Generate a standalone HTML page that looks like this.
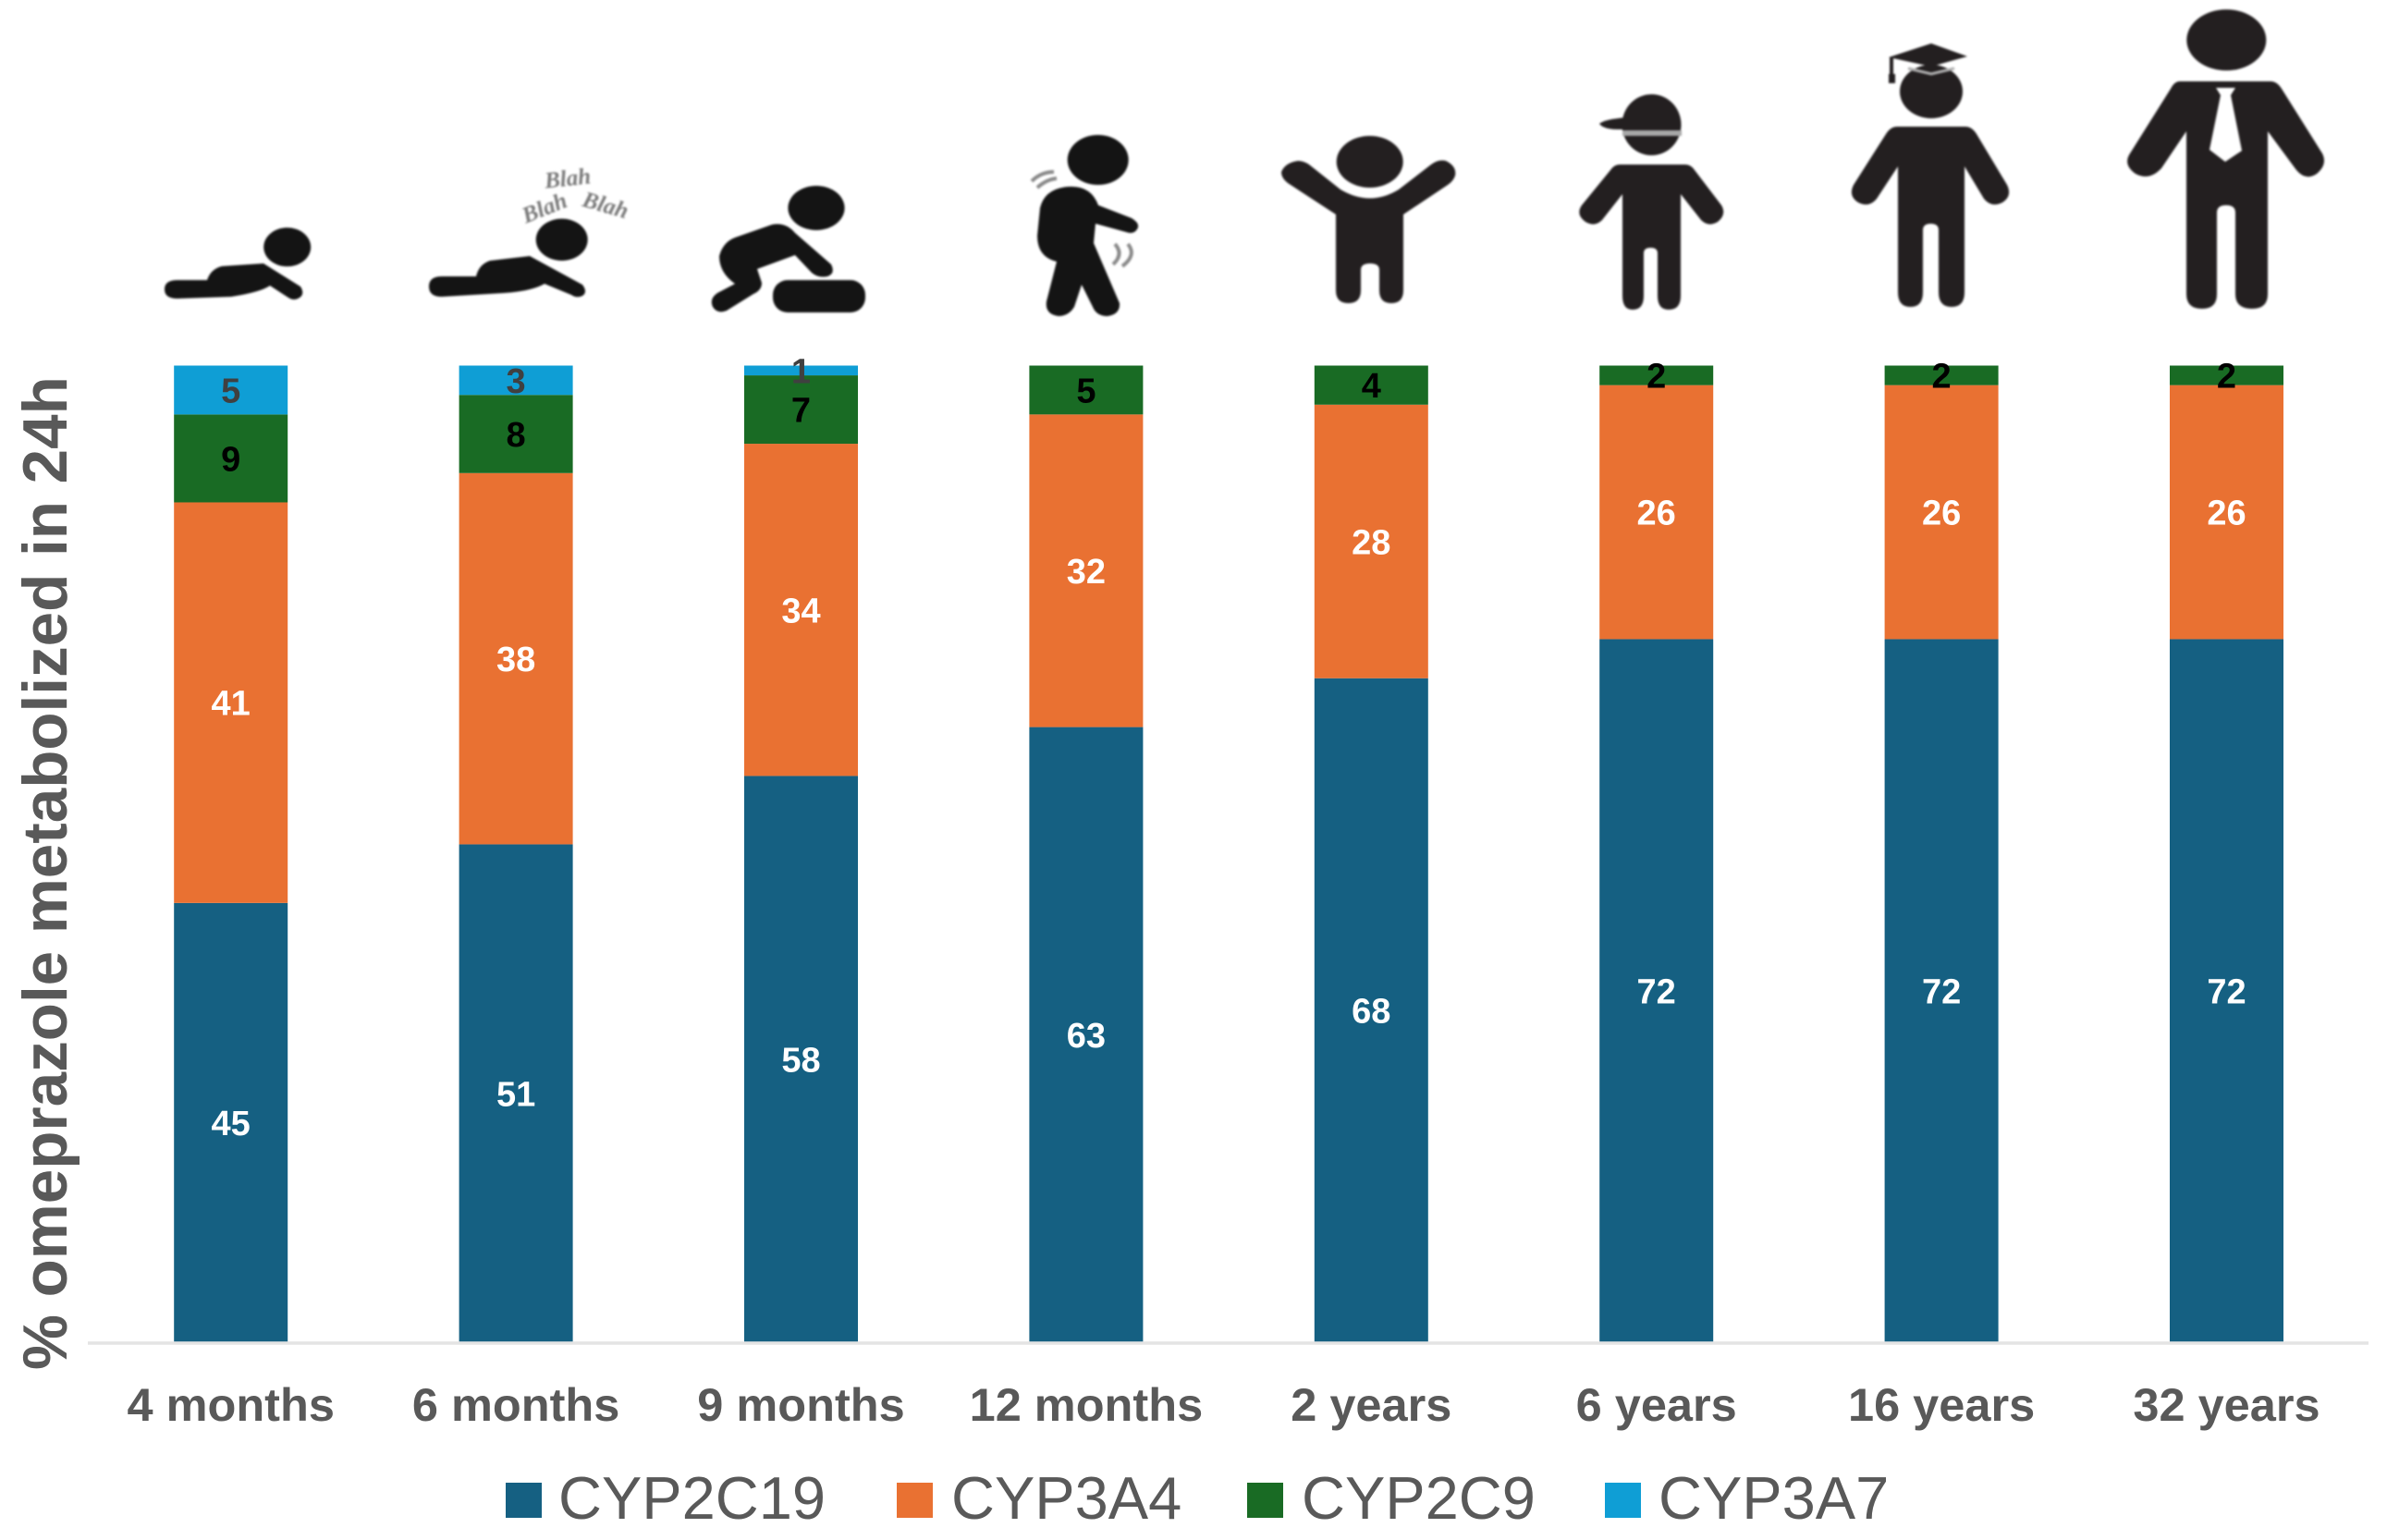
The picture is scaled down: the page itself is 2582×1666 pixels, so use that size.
<!DOCTYPE html>
<html lang="en">
<head>
<meta charset="utf-8">
<title>Omeprazole metabolism by age</title>
<style>
html,body{margin:0;padding:0;background:#fff;}
svg{display:block;font-family:"Liberation Sans",Arial,sans-serif;}
#age-icons{filter:blur(1.1px);}
</style>
</head>
<body>
<svg id="chart" xmlns="http://www.w3.org/2000/svg" width="2582" height="1666" viewBox="0 0 2582 1666">
  <rect x="0" y="0" width="2582" height="1666" fill="#ffffff"/>

  <g id="age-icons">
    <g fill="#141414">
      <ellipse cx="310.7" cy="267.3" rx="25.5" ry="21"/>
      <path d="M192 303 L224 303 Q228 291 240 288 L285 285 L325 310 Q330 318 324 322 Q318 326 312 322 L292 309 Q282 316 250 321 L192 323 Q178 323 178 313 Q178 303 192 303 Z"/>
    </g>
    <g fill="#141414">
      <ellipse cx="607.7" cy="259.3" rx="28" ry="22.7"/>
      <path d="M478 299 L515 299 Q518 286 530 282 L573 277 L630 308 Q636 316 630 320 Q624 323 618 319 L589 307 Q575 315 545 317 L478 321 Q464 321 464 310 Q464 299 478 299 Z"/>
      <text x="614" y="201" font-size="25" font-weight="700" font-style="italic" font-family="Liberation Serif" fill="#7a7a7a" text-anchor="middle" transform="rotate(-6 614 193)">Blah</text>
      <text x="589" y="233" font-size="25" font-weight="700" font-style="italic" font-family="Liberation Serif" fill="#7a7a7a" text-anchor="middle" transform="rotate(-22 589 225)">Blah</text>
      <text x="655" y="230" font-size="25" font-weight="700" font-style="italic" font-family="Liberation Serif" fill="#7a7a7a" text-anchor="middle" transform="rotate(16 655 222)">Blah</text>
    </g>
    <g fill="#141414">
      <ellipse cx="883" cy="225" rx="30.6" ry="24"/>
      <path d="M778 277 Q782 262 795 257 L835 243 Q850 240 860 252 L899 286 Q904 296 895 299 Q885 301 878 295 L860 276 L819 291 L824 306 Q824 314 815 318 L786 336 Q776 340 771 332 Q767 323 776 317 L795 307 Q778 295 778 277 Z"/>
      <rect x="836" y="303" width="100" height="35" rx="16"/>
    </g>
    <g fill="#141414">
      <ellipse cx="1187.7" cy="173" rx="33" ry="27"/>
      <path d="M1155 202 Q1180 200 1188 222 L1224 236 Q1234 242 1230 248 Q1226 254 1218 251 L1185 242 L1183 263 L1211 328 Q1212 340 1198 342 Q1186 342 1182 332 L1170 308 L1162 332 Q1156 342 1145 342 Q1130 340 1132 326 L1143 283 Q1122 278 1122 255 L1125 225 Q1130 204 1155 202 Z"/>
      <path d="M1116 196 Q1126 186 1140 186 M1122 203 Q1132 194 1143 193" stroke="#8a8a8a" stroke-width="4" fill="none"/>
      <path d="M1206 264 Q1216 275 1204 286 M1220 264 Q1230 276 1214 288" stroke="#8a8a8a" stroke-width="4" fill="none"/>
    </g>
    <g fill="#231f20">
      <ellipse cx="1481.7" cy="175" rx="36" ry="28"/>
      <path d="M1404 174 Q1410 174 1416 178 L1450 205 Q1482 224 1513 205 L1548 178 Q1556 172 1564 174 Q1576 180 1574 190 Q1572 196 1566 200 L1518 232 L1518 314 Q1518 328 1505 328 Q1492 328 1492 314 L1492 292 Q1492 285 1482 285 Q1472 285 1472 292 L1472 314 Q1472 328 1458.5 328 Q1445 328 1445 314 L1445 232 L1396 200 Q1386 194 1386 186 Q1390 176 1404 174 Z"/>
    </g>
    <g fill="#231f20">
      <ellipse cx="1786.5" cy="135" rx="32" ry="33"/>
      <path d="M1730 134 Q1735 129 1760 127 L1790 127 L1790 140 L1750 140 Q1735 140 1730 134 Z"/>
      <rect x="1755" y="141" width="64" height="6" fill="#a8a8a8"/>
      <path d="M1752 178 L1823 178 Q1829 178 1833 184 L1862 222 Q1868 232 1858 240 Q1848 246 1840 238 L1818 210 L1818 320 Q1818 335 1805 335 Q1793 335 1793 320 L1793 274 Q1793 268 1785.5 268 Q1778 268 1778 274 L1778 320 Q1778 335 1766 335 Q1755 335 1755 320 L1755 210 L1733 238 Q1725 246 1715 240 Q1704 232 1711 222 L1742 184 Q1746 178 1752 178 Z"/>
    </g>
    <g fill="#231f20">
      <ellipse cx="2089" cy="99" rx="34" ry="29"/>
      <polygon points="2043,62 2089,47 2128,61 2089,72"/>
      <path d="M2064 74 L2089 80 L2114 74" stroke="#b0b0b0" stroke-width="3" fill="none"/>
      <path d="M2046 62 L2046 82" stroke="#231f20" stroke-width="4" fill="none"/>
      <rect x="2043" y="80" width="7" height="10"/>
      <path d="M2052 137 L2126 137 Q2133 137 2138 145 L2171 200 Q2177 212 2166 219 Q2154 225 2146 215 L2125 180 L2125 316 Q2125 332 2111 332 Q2097 332 2097 316 L2097 249 Q2097 242 2088.5 242 Q2080 242 2080 249 L2080 316 Q2080 332 2066.5 332 Q2053 332 2053 316 L2053 180 L2030 215 Q2022 225 2010 219 Q1999 212 2005 200 L2040 145 Q2045 137 2052 137 Z"/>
    </g>
    <g fill="#231f20">
      <ellipse cx="2408.3" cy="43.3" rx="43" ry="33"/>
      <path d="M2358 88 L2456 88 Q2463 88 2468 96 L2512 166 Q2518 178 2506 188 Q2494 196 2484 184 L2453 142 L2453 318 Q2453 334 2436 334 Q2418 334 2418 318 L2418 230 Q2418 222 2408 222 Q2398 222 2398 230 L2398 318 Q2398 334 2382 334 Q2365 334 2365 318 L2365 142 L2338 182 Q2325 196 2310 188 Q2296 178 2304 166 L2348 96 Q2352 88 2358 88 Z"/>
      <polygon points="2397,95 2418,95 2413,103 2425,163 2407,175 2390,162 2402,103" fill="#ffffff"/>
    </g>
  </g>

  <g id="bars"></g>
  <line x1="95" y1="1453" x2="2562" y2="1453" stroke="#e4e4e4" stroke-width="3.5"/>
  <g id="x-labels"></g>
  <text transform="translate(72,1482) rotate(-90)" font-size="67.4" font-weight="700" fill="#595959">% omeprazole metabolized in 24h</text>
  <g id="legend"></g>
</svg>

<script>
var categories = ["4 months", "6 months", "9 months", "12 months", "2 years", "6 years", "16 years", "32 years"];
var cyp2c19 = [45, 51, 58, 63, 68, 72, 72, 72];
var cyp3a4 = [41, 38, 34, 32, 28, 26, 26, 26];
var cyp2c9 = [9, 8, 7, 5, 4, 2, 2, 2];
var cyp3a7 = [5, 3, 1, 0, 0, 0, 0, 0];
var seriesNames = ["CYP2C19", "CYP3A4", "CYP2C9", "CYP3A7"];

var NS = "http://www.w3.org/2000/svg";
var seriesValues = [cyp2c19, cyp3a4, cyp2c9, cyp3a7];
var seriesColors = ["#156082", "#E97132", "#196B24", "#0F9ED5"];
var labelColors = ["#ffffff", "#ffffff", "#000000", "#404040"];
var legendSwatchX = [547, 970, 1349, 1736];
var legendTextX = [604, 1029, 1408, 1794];

function xCenter(i) { return 249.7 + i * 308.4; }
function yScale(v) { return 1452.5 - v * 10.57; }
var barWidth = 123;

var barsGroup = document.getElementById("bars");
var xLabelsGroup = document.getElementById("x-labels");
var legendGroup = document.getElementById("legend");

categories.forEach(function (category, i) {
  var cumulative = 0;
  seriesValues.forEach(function (values, s) {
    var v = values[i];
    if (v <= 0) { return; }
    var top = yScale(cumulative + v);
    var bottom = yScale(cumulative);
    var rect = document.createElementNS(NS, "rect");
    
    
    rect.setAttribute("x", xCenter(i) - barWidth / 2);
    rect.setAttribute("y", top);
    rect.setAttribute("width", barWidth);
    rect.setAttribute("height", bottom - top);
    rect.setAttribute("fill", seriesColors[s]);
    barsGroup.appendChild(rect);
    cumulative += v;
  });
  cumulative = 0;
  seriesValues.forEach(function (values, s) {
    var v = values[i];
    if (v <= 0) { return; }
    var top = yScale(cumulative + v);
    var bottom = yScale(cumulative);
    var label = document.createElementNS(NS, "text");
    
    
    label.setAttribute("x", xCenter(i));
    label.setAttribute("y", (top + bottom) / 2 + 13.5);
    label.setAttribute("text-anchor", "middle");
    label.setAttribute("font-size", "38");
    label.setAttribute("font-weight", "700");
    label.setAttribute("fill", labelColors[s]);
    label.textContent = String(v);
    barsGroup.appendChild(label);
    cumulative += v;
  });

  var tick = document.createElementNS(NS, "text");
  
  
  tick.setAttribute("x", xCenter(i));
  tick.setAttribute("y", 1537);
  tick.setAttribute("text-anchor", "middle");
  tick.setAttribute("font-size", "50.5");
  tick.setAttribute("font-weight", "700");
  tick.setAttribute("fill", "#595959");
  tick.textContent = category;
  xLabelsGroup.appendChild(tick);
});

seriesNames.forEach(function (name, s) {
  var swatch = document.createElementNS(NS, "rect");
  
  
  swatch.setAttribute("x", legendSwatchX[s]);
  swatch.setAttribute("y", 1604);
  swatch.setAttribute("width", 39);
  swatch.setAttribute("height", 38);
  swatch.setAttribute("fill", seriesColors[s]);
  legendGroup.appendChild(swatch);

  var entry = document.createElementNS(NS, "text");
  
  
  entry.setAttribute("x", legendTextX[s]);
  entry.setAttribute("y", 1643);
  entry.setAttribute("font-size", "65");
  entry.setAttribute("fill", "#595959");
  entry.textContent = name;
  legendGroup.appendChild(entry);
});
</script>
</body>
</html>
